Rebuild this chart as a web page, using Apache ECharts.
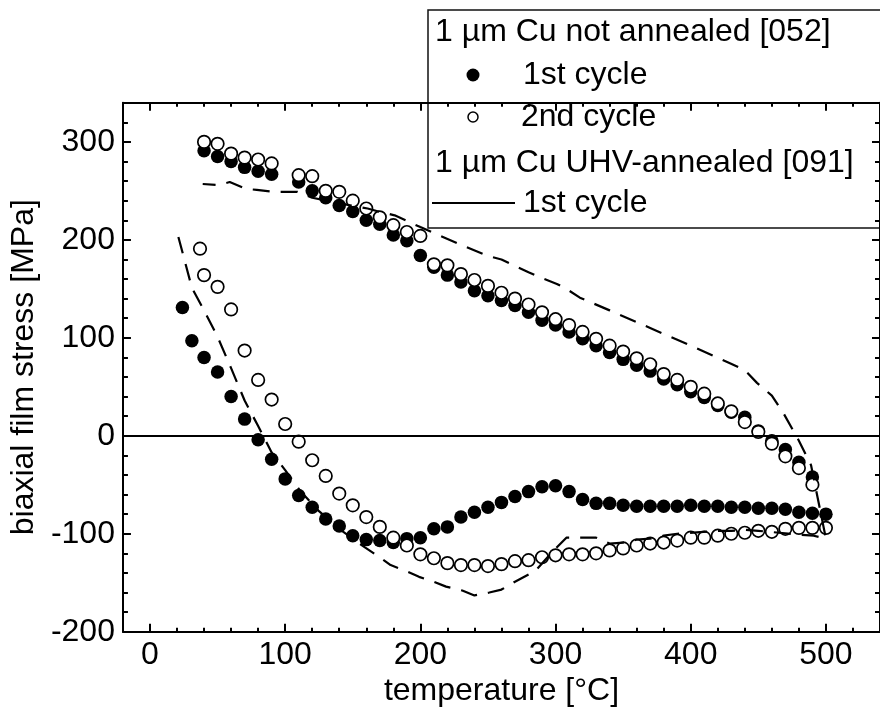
<!DOCTYPE html>
<html><head><meta charset="utf-8">
<script src="https://cdn.jsdelivr.net/npm/echarts@6/dist/echarts.min.js"></script>
<style>html,body{margin:0;padding:0;background:#fff}#c{width:880px;height:716px}</style>
</head><body><div id="c"></div>
<script>
// 1 µm Cu not annealed [052], 1st cycle (filled circles) [T °C, stress MPa]
const notAnn1stHeat = [[24,131],[31,97],[40,80],[50,65],[60,40],[70,17],[80,-4],[90,-24],[100,-44],[110,-61],[120,-73],[130,-85],[140,-92],[150,-102],[160,-106],[170,-107],[180,-109],[190,-105],[200,-104],[210,-95],[220,-93],[230,-83],[240,-78],[250,-73],[260,-68],[270,-62],[280,-57],[290,-52],[300,-51],[310,-57],[320,-65],[330,-69],[340,-69],[350,-71],[360,-72],[370,-72],[380,-72],[390,-72],[400,-71],[410,-72],[420,-72],[430,-73],[440,-73],[450,-74],[460,-74],[470,-75],[480,-78],[490,-79],[500,-80]];
const notAnn1stCool = [[490,-42],[480,-27],[470,-14],[460,-5],[450,5],[440,19],[430,24],[420,31],[410,39],[400,45],[390,52],[380,58],[370,66],[360,72],[350,78],[340,85],[330,92],[320,99],[310,106],[300,113],[290,118],[280,126],[270,133],[260,138],[250,143],[240,148],[230,157],[220,164],[210,172],[200,184],[190,199],[180,205],[170,216],[160,220],[150,229],[140,235],[130,243],[120,250],[110,259],[90,267],[80,270],[70,274],[60,280],[50,285],[40,291]];
// 2nd cycle (open circles)
const notAnn2ndHeat = [[37,191],[40,164],[50,152],[60,129],[70,87],[80,57],[90,37],[100,12],[110,-6],[120,-25],[130,-41],[140,-59],[150,-71],[160,-83],[170,-93],[180,-104],[190,-112],[200,-121],[210,-125],[220,-130],[230,-132],[240,-132],[250,-133],[260,-131],[270,-128],[280,-127],[290,-124],[300,-122],[310,-121],[320,-121],[330,-120],[340,-117],[350,-115],[360,-112],[370,-110],[380,-109],[390,-107],[400,-104],[410,-104],[420,-102],[430,-100],[440,-99],[450,-97],[460,-98],[470,-95],[480,-94],[490,-94],[500,-94]];
const notAnn2ndCool = [[490,-50],[480,-33],[470,-21],[460,-8],[450,4],[440,14],[430,25],[420,33],[410,43],[400,50],[390,57],[380,63],[370,73],[360,79],[350,86],[340,92],[330,99],[320,106],[310,113],[300,119],[290,126],[280,134],[270,140],[260,146],[250,153],[240,159],[230,165],[220,174],[210,175],[200,204],[190,208],[180,215],[170,223],[160,232],[150,240],[140,249],[130,250],[120,265],[110,266],[90,278],[80,282],[70,284],[60,288],[50,298],[40,300]];
// 1 µm Cu UHV-annealed [091], 1st cycle (line)
const uhv1st = [[21,203],[31,151],[40,128],[50,101],[60,69],[70,36],[80,10],[90,-17],[100,-35],[111,-56],[125,-77],[142,-97],[159,-114],[170,-124],[178,-132],[191,-139],[199,-144],[210,-149],[219,-154],[231,-158],[240,-163],[251,-160],[260,-157],[270,-149],[285,-138],[298,-118],[308,-104],[320,-104],[330,-104],[340,-110],[350,-109],[360,-106],[370,-105],[380,-102],[390,-100],[420,-97],[430,-97],[440,-96],[450,-97],[481,-101],[491,-102],[500,-105],[489,-30],[480,-5],[469,22],[460,41],[449,54],[440,67],[429,74],[400,92],[370,110],[340,128],[318,141],[308,150],[301,155],[288,162],[280,167],[269,174],[260,180],[249,184],[230,195],[200,213],[181,225],[169,229],[161,232],[149,235],[120,243],[109,249],[91,249],[79,251],[71,252],[59,259],[51,256],[39,257]];

const xMajor = [0,100,200,300,400,500];
const xMinor = [20,40,60,80,120,140,160,180,220,240,260,280,320,340,360,380,420,440,460,480,520,540];
const yMajor = [-200,-100,0,100,200,300];
const yMinor = [-180,-160,-140,-120,-80,-60,-40,-20,20,40,60,80,120,140,160,180,220,240,260,280,320,340];

const FONT = '"Liberation Sans", Arial, sans-serif';
const FS = 32;

const chart = echarts.init(document.getElementById('c'), null, {renderer:'canvas'});

function xAx(pos, vals, len, line, labels, extra){
  return Object.assign({
    type:'value', min:-20, max:540, position:pos, gridIndex:0,
    splitLine:{show:false},
    axisLine:{show:line, onZero:false, lineStyle:{color:'#000', width:2}},
    axisTick:{show:true, inside:true, length:len, customValues:vals, lineStyle:{color:'#000', width:2}},
    axisLabel:labels ? {show:true, customValues:vals, fontSize:FS, color:'#000', fontFamily:FONT, margin:7} : {show:false}
  }, extra||{});
}
function yAx(pos, vals, len, line, labels, extra){
  return Object.assign({
    type:'value', min:-200, max:340, position:pos, gridIndex:0,
    splitLine:{show:false},
    axisLine:{show:line, onZero:false, lineStyle:{color:'#000', width:2}},
    axisTick:{show:true, inside:true, length:len, customValues:vals, lineStyle:{color:'#000', width:2}},
    axisLabel:labels ? {show:true, customValues:vals, fontSize:FS, color:'#000', fontFamily:FONT, margin:8} : {show:false}
  }, extra||{});
}

const option = {
  animation:false,
  backgroundColor:'#fff',
  grid:{left:119.3, top:102.7, width:763.8, height:529, containLabel:false},
  xAxis:[
    xAx('bottom', xMajor, 8, true, true, {name:'temperature [°C]', nameLocation:'middle', nameGap:42,
      nameTextStyle:{fontSize:FS, color:'#000', fontFamily:FONT}}),
    xAx('bottom', xMinor, 4, false, false),
    xAx('top', xMajor, 8, true, false),
    xAx('top', xMinor, 4, false, false)
  ],
  yAxis:[
    yAx('left', yMajor, 8, true, true, {name:'biaxial film stress [MPa]', nameLocation:'middle', nameGap:73,
      nameTextStyle:{fontSize:FS, color:'#000', fontFamily:FONT}}),
    yAx('left', yMinor, 5, false, false),
    yAx('right', yMajor, 8, true, false),
    yAx('right', yMinor, 5, false, false)
  ],
  series:[
    {type:'scatter', name:'1st cycle', xAxisIndex:0, yAxisIndex:0,
     data: notAnn1stHeat.concat(notAnn1stCool),
     symbol:'circle', symbolSize:13.5, itemStyle:{color:'#000', opacity:1},
     markLine:{silent:true, symbol:'none', label:{show:false}, lineStyle:{color:'#000', width:2, type:'solid'},
       data:[{yAxis:0}]}},
    {type:'scatter', name:'2nd cycle', xAxisIndex:0, yAxisIndex:0,
     data: notAnn2ndHeat.concat(notAnn2ndCool),
     symbol:'circle', symbolSize:12.5, itemStyle:{color:'#fff', borderColor:'#000', borderWidth:1.7, opacity:1}},
    {type:'line', name:'UHV 1st cycle', xAxisIndex:0, yAxisIndex:0,
     data: uhv1st, showSymbol:false, symbol:'none', z:5,
     lineStyle:{color:'#000', width:2.2, type:[17,11]}}
  ],
  graphic:[
    {type:'group', z:100, children:[
      {type:'rect', shape:{x:428, y:10, width:470, height:218}, style:{fill:'#fff', stroke:'#111', lineWidth:1.5}},
      {type:'text', x:435, y:32, style:{text:'1 µm Cu not annealed [052]', font:FS+'px '+FONT, fill:'#000', verticalAlign:'middle'}},
      {type:'circle', shape:{cx:473, cy:75, r:6.5}, style:{fill:'#000'}},
      {type:'text', x:523, y:75, style:{text:'1st cycle', font:FS+'px '+FONT, fill:'#000', verticalAlign:'middle'}},
      {type:'circle', shape:{cx:473, cy:117, r:5}, style:{fill:'#fff', stroke:'#000', lineWidth:1.5}},
      {type:'text', x:521, y:117, style:{text:'2nd cycle', font:FS+'px '+FONT, fill:'#000', verticalAlign:'middle'}},
      {type:'text', x:435, y:163, style:{text:'1 µm Cu UHV-annealed [091]', font:FS+'px '+FONT, fill:'#000', verticalAlign:'middle'}},
      {type:'line', shape:{x1:432, y1:203, x2:515, y2:203}, style:{stroke:'#000', lineWidth:2}},
      {type:'text', x:523, y:203, style:{text:'1st cycle', font:FS+'px '+FONT, fill:'#000', verticalAlign:'middle'}}
    ]}
  ]
};
chart.setOption(option);
</script></body></html>
